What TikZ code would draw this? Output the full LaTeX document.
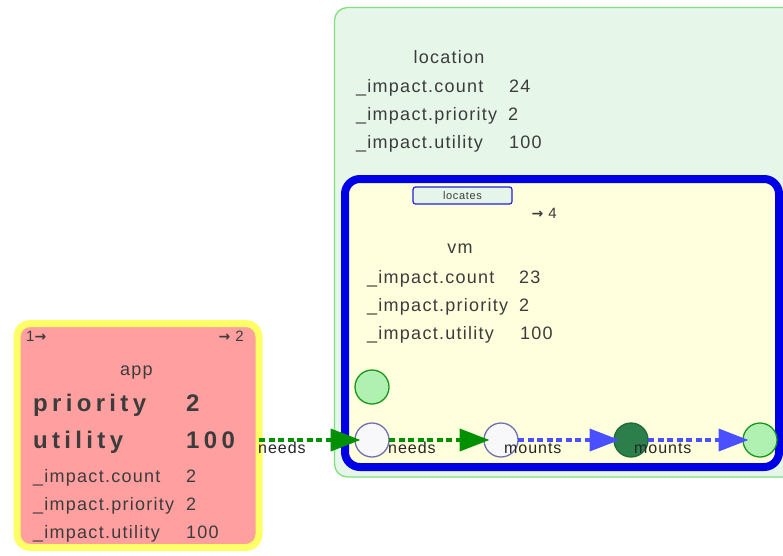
\documentclass[tikz,border=0pt]{standalone}
\usepackage{fontspec}
\setmainfont{Liberation Sans}
\newfontfamily\rfont[LetterSpace=7]{Liberation Sans}
\newfontfamily\bfont[LetterSpace=18]{Liberation Sans Bold}
\newfontfamily\sfont[LetterSpace=6]{Liberation Sans}
\newfontfamily\arrfont{DejaVu Sans Bold}
\newcommand{\rarr}{{\arrfont\fontsize{14}{15}\selectfont →}}
\usetikzlibrary{arrows.meta}
\definecolor{apppink}{HTML}{FF9F9F}
\definecolor{appyel}{HTML}{FFFF66}
\definecolor{locfill}{HTML}{E6F6E8}
\definecolor{locline}{HTML}{80E080}
\definecolor{vmfill}{HTML}{FFFFDD}
\definecolor{vmline}{HTML}{0000E6}
\definecolor{tagfill}{HTML}{E6F5EA}
\definecolor{tagline}{HTML}{2020E0}
\definecolor{tgray}{HTML}{3C3C3C}
\definecolor{wfill}{HTML}{F8F8FA}
\definecolor{wline}{HTML}{7070B0}
\definecolor{dgfill}{HTML}{2C7E4A}
\definecolor{dgline}{HTML}{1E6A3A}
\definecolor{lgfill}{HTML}{B0F0B0}
\definecolor{lgline}{HTML}{1A961A}
\definecolor{gedgec}{HTML}{009000}
\definecolor{bedgec}{HTML}{4A50FF}
\tikzset{
  appbox/.style={draw=appyel, fill=apppink, line width=7pt, rounded corners=13pt, inner sep=0pt, outer sep=0pt},
  locbox/.style={draw=locline, fill=locfill, line width=1.3pt, rounded corners=13pt, inner sep=0pt, outer sep=0pt},
  vmbox/.style={draw=vmline, fill=vmfill, line width=8pt, rounded corners=15pt, inner sep=0pt, outer sep=0pt},
  tagbox/.style={draw=tagline, fill=tagfill, line width=1.2pt, rounded corners=2.5pt, inner sep=0pt,
    minimum width=99pt, minimum height=17pt, text=tgray, font=\sfont\fontsize{11}{12}\selectfont},
  txt/.style={anchor=base west, inner sep=0pt, text=tgray, font=\rfont\fontsize{18}{20}\selectfont},
  btxt/.style={anchor=base west, inner sep=0pt, text=tgray, font=\bfont\fontsize{24}{26}\selectfont},
  stxt/.style={anchor=base west, inner sep=0pt, text=tgray, font=\sfont\fontsize{15}{17}\selectfont},
  elabel/.style={anchor=base west, inner sep=0pt, text=black!85, font=\sfont\fontsize{16}{18}\selectfont},
  circ/.style={circle, minimum size=34pt, inner sep=0pt, line width=1.3pt, outer sep=0pt},
  wcirc/.style={circ, draw=wline, fill=wfill},
  dgcirc/.style={circ, draw=dgline, fill=dgfill},
  lgcirc/.style={circ, draw=lgline, fill=lgfill},
  gedge/.style={draw=gedgec, line width=4pt, dash pattern=on 6pt off 3.5pt, -{Triangle[length=30pt,width=22pt]}},
  bedge/.style={draw=bedgec, line width=4pt, dash pattern=on 6pt off 3.5pt, -{Triangle[length=30pt,width=22pt]}}
}
\begin{document}
\begin{tikzpicture}[x=1pt,y=-1pt]
\useasboundingbox (0,0) rectangle (783,555);
\clip (0,0) rectangle (783,555);
\fill[white] (0,0) rectangle (783,555);

% containers
\node[locbox, minimum width=480pt, minimum height=469.5pt, anchor=north west] (location) at (334.5,7.5) {};
\node[vmbox, minimum width=434pt, minimum height=288pt, anchor=north west] (vm) at (345,179) {};
\node[appbox, minimum width=242pt, minimum height=224pt, anchor=north west] (app) at (17,323.5) {};

% location texts
\node[txt, anchor=base] (locname) at (449,63) {location};
\node[txt] (lk1) at (356,92) {\_impact.count};
\node[txt] (lv1) at (509,92) {24};
\node[txt] (lk2) at (356,120) {\_impact.priority};
\node[txt] (lv2) at (508,120) {2};
\node[txt] (lk3) at (356,148) {\_impact.utility};
\node[txt] (lv3) at (509,148) {100};

% vm texts
\node[tagbox] (tag) at (462.5,195.5) {locates};
\node[stxt, anchor=base east] (vmout) at (557,218) {\rarr\ 4};
\node[txt, anchor=base] (vmname) at (460,253) {vm};
\node[txt] (vk1) at (367,283) {\_impact.count};
\node[txt] (vv1) at (519,283) {23};
\node[txt] (vk2) at (367,311) {\_impact.priority};
\node[txt] (vv2) at (519,311) {2};
\node[txt] (vk3) at (367,339) {\_impact.utility};
\node[txt] (vv3) at (520,339) {100};

% app texts
\node[stxt] (appin) at (26,341) {1\rarr};
\node[stxt, anchor=base east] (appout) at (244,341) {\rarr\ 2};
\node[txt, anchor=base] (appname) at (136.5,375) {app};
\node[btxt] (ab1) at (33,411) {priority};
\node[btxt] (abv1) at (186,411) {2};
\node[btxt] (ab2) at (33,448) {utility};
\node[btxt] (abv2) at (186,448) {100};
\node[txt] (ak1) at (33,482) {\_impact.count};
\node[txt] (av1) at (186,482) {2};
\node[txt] (ak2) at (33,510) {\_impact.priority};
\node[txt] (av2) at (186,510) {2};
\node[txt] (ak3) at (33,538) {\_impact.utility};
\node[txt] (av3) at (186,538) {100};

% circles
\node[lgcirc] (c0) at (372,387) {};
\node[wcirc] (c1) at (372,440) {};
\node[wcirc] (c2) at (501,440) {};
\node[dgcirc] (c3) at (631,440) {};
\node[lgcirc] (c4) at (760,440) {};

% edges
\draw[gedge] (app.east |- c1) -- ([xshift=5.5pt]c1.west);
\draw[gedge] (c1.east) -- ([xshift=5.5pt]c2.west);
\draw[bedge] (c2.east) -- ([xshift=5.5pt]c3.west);
\draw[bedge] (c3.east) -- ([xshift=5.5pt]c4.west);

% edge labels
\node[elabel] (e1) at (258,453) {needs};
\node[elabel] (e2) at (388,453) {needs};
\node[elabel] (e3) at (504,453) {mounts};
\node[elabel] (e4) at (634,453) {mounts};
\end{tikzpicture}
\end{document}
